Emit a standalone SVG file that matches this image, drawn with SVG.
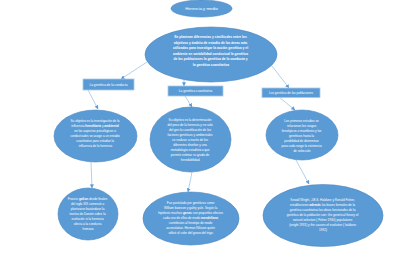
<svg xmlns="http://www.w3.org/2000/svg" width="400" height="267" viewBox="0 0 400 267">
<defs>
<marker id="ah" viewBox="0 0 6 6" refX="5.5" refY="3" markerWidth="4" markerHeight="4" orient="auto" markerUnits="userSpaceOnUse">
<path d="M0,0 L6,3 L0,6 z" fill="#5b9bd5"/>
</marker>
<style>
.el{fill:#5b9bd5;stroke:#4a86c0;stroke-width:0.6}
.bx{fill:#5b9bd5;stroke:#a9c9ea;stroke-width:0.8}
.t{fill:#ffffff;font-family:"Liberation Sans",Arial,sans-serif;text-anchor:middle}
.s{font-size:3.1px}
.b{font-weight:bold}
.cn{stroke:#7fb0e0;stroke-width:0.6;fill:none;marker-end:url(#ah)}
</style>
</defs>
<rect width="400" height="267" fill="#ffffff"/>

<g id="connectors">
<line class="cn" x1="147" y1="62" x2="121" y2="79"/>
<line class="cn" x1="184" y1="80" x2="184" y2="86"/>
<line class="cn" x1="272" y1="66" x2="289" y2="88"/>
<line class="cn" x1="88" y1="90" x2="98" y2="109"/>
<line class="cn" x1="185" y1="96" x2="192" y2="107"/>
<line class="cn" x1="279" y1="97" x2="295" y2="110"/>
<line class="cn" x1="91" y1="162" x2="92" y2="188"/>
<line class="cn" x1="192" y1="172" x2="188" y2="192"/>
<line class="cn" x1="296" y1="160" x2="309" y2="184"/>
</g>

<g id="n_title">
<ellipse class="el" cx="201.5" cy="8.5" rx="30.5" ry="8.5"/>
<text class="t" x="201.5" y="10" font-size="4.2">Herencia y medio</text>
</g>

<g id="n_main">
<ellipse class="el" cx="211" cy="54.5" rx="66" ry="27.5"/>
<text class="t b" font-size="3.3">
<tspan x="211" y="38">Se plantean diferencias y similitudes entre los</tspan>
<tspan x="211" y="43.5">objetivos y ámbito de estudio de las áreas más</tspan>
<tspan x="211" y="49">utilizadas para investigar la acción genética y el</tspan>
<tspan x="211" y="54.5">ambiente en variabilidad conductual la genética</tspan>
<tspan x="211" y="60">de las poblaciones la genética de la conducta y</tspan>
<tspan x="211" y="65.5">la genética cuantitativa</tspan>
</text>
</g>

<g id="n_box1">
<rect class="bx" x="83" y="79" width="51" height="11"/>
<text class="t" x="108.5" y="85.6" font-size="3.2">La genética de la conducta</text>
</g>

<g id="n_box2">
<rect class="bx" x="168" y="86" width="55" height="10"/>
<text class="t" x="195.5" y="92.1" font-size="3.2">La genética cuantitativa</text>
</g>

<g id="n_box3">
<rect class="bx" x="262" y="88" width="58" height="9.5"/>
<text class="t" x="291" y="93.9" font-size="3.1">Los genética de las poblaciones</text>
</g>

<g id="n_e1">
<ellipse class="el" cx="95.5" cy="136" rx="41.5" ry="26"/>
<text class="t s">
<tspan x="95.5" y="122">Su objetivo es la investigación de la</tspan>
<tspan x="95.5" y="127">influencia <tspan class="b">hereditaria</tspan> y <tspan class="b">ambiental</tspan></tspan>
<tspan x="95.5" y="132">en los aspectos psicológicos o</tspan>
<tspan x="95.5" y="137">conductuales se acoge a un estudio</tspan>
<tspan x="95.5" y="142">cuantitativo para estudiar la</tspan>
<tspan x="95.5" y="147">influencia de la herencia</tspan>
</text>
</g>

<g id="n_e2">
<ellipse class="el" cx="190.5" cy="139.5" rx="40.5" ry="32.5"/>
<text class="t s">
<tspan x="190.5" y="121">Su objetivo es la determinación</tspan>
<tspan x="190.5" y="126">del peso de la herencia y no solo</tspan>
<tspan x="190.5" y="131">del gen la cuantificación de los</tspan>
<tspan x="190.5" y="136">factores genéticos y ambientales</tspan>
<tspan x="190.5" y="141">se realizan a través de los</tspan>
<tspan x="190.5" y="146">diferentes diseños y una</tspan>
<tspan x="190.5" y="151">metodología estadística que</tspan>
<tspan x="190.5" y="156">permite estimar su grado de</tspan>
<tspan x="190.5" y="161">heredabilidad.</tspan>
</text>
</g>

<g id="n_e3">
<ellipse class="el" cx="302" cy="135" rx="36" ry="25"/>
<text class="t s">
<tspan x="302" y="122">Los primeros estudios se</tspan>
<tspan x="302" y="127">relacionan los rasgos</tspan>
<tspan x="302" y="132">fenotípicos o manifiesto y los</tspan>
<tspan x="302" y="137">genéticos hasta la</tspan>
<tspan x="302" y="142">posibilidad de determinar</tspan>
<tspan x="302" y="147">para cada rasgo la existencia</tspan>
<tspan x="302" y="152">de selección</tspan>
</text>
</g>

<g id="n_e4">
<ellipse class="el" cx="88" cy="214" rx="30" ry="26"/>
<text class="t s">
<tspan x="88" y="200">Francis <tspan class="b">galton</tspan> desde finales</tspan>
<tspan x="88" y="205">del siglo XIX comenzó a</tspan>
<tspan x="88" y="210">plantearse basándose la</tspan>
<tspan x="88" y="215">teorías de Darwin sobre la</tspan>
<tspan x="88" y="220">evolución si la herencia</tspan>
<tspan x="88" y="225">afecta a la conducta</tspan>
<tspan x="88" y="230">humana</tspan>
</text>
</g>

<g id="n_e5">
<ellipse class="el" cx="191" cy="218.5" rx="48" ry="26.5"/>
<text class="t s">
<tspan x="191" y="204">Fue postulado por genéticos como</tspan>
<tspan x="191" y="209">William bateson y galtry yule. Según la</tspan>
<tspan x="191" y="214">hipótesis muchos <tspan class="b">genes</tspan> con pequeños efectos</tspan>
<tspan x="191" y="219">cada uno de ellos de modo <tspan class="b">mendeliano</tspan></tspan>
<tspan x="191" y="224">contribuían al fenotipo de modo</tspan>
<tspan x="191" y="229">acumulativo. Herman Nilsson quién</tspan>
<tspan x="191" y="234">utilizó el color del grano del trigo.</tspan>
</text>
</g>

<g id="n_e6">
<ellipse class="el" cx="323" cy="215.5" rx="60" ry="31"/>
<text class="t s">
<tspan x="323" y="201">Sewall Wright, J.B.S. Haldane y Ronald Fisher,</tspan>
<tspan x="323" y="206">establecieron <tspan class="b">además</tspan> las bases formales de la</tspan>
<tspan x="323" y="211">genética cuantitativa las obras funcionales de la</tspan>
<tspan x="323" y="216">genética de la población son: the genetical theory of</tspan>
<tspan x="323" y="221">natural selection ( Fisher 1930) populations</tspan>
<tspan x="323" y="226">(wright 1931) y the causes of evolution ( haldane</tspan>
<tspan x="323" y="231">1932)</tspan>
</text>
</g>
</svg>
